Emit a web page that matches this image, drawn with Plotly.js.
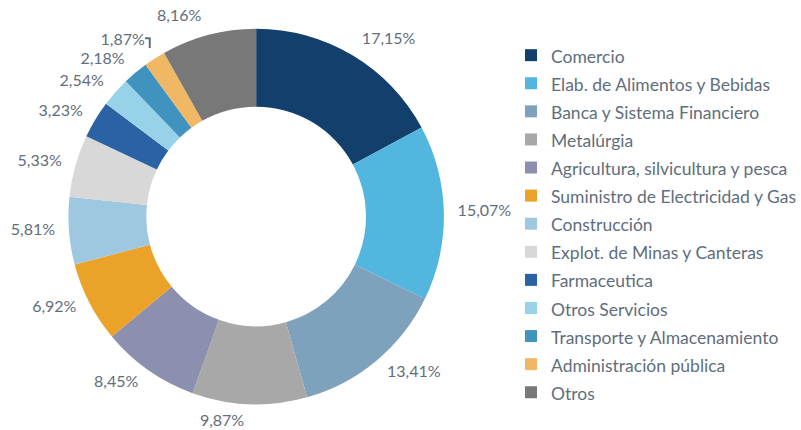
<!DOCTYPE html>
<html><head><meta charset="utf-8">
<script src="https://cdn.plot.ly/plotly-3.0.1.min.js"></script>
<style>html,body{margin:0;padding:0;background:#fff}#chart{width:801px;height:430px}</style>
</head><body><div id="chart"></div>
<script>
const categories = ["Comercio","Elab. de Alimentos y Bebidas","Banca y Sistema Financiero","Metalúrgia","Agricultura, silvicultura y pesca","Suministro de Electricidad y Gas","Construcción","Explot. de Minas y Canteras","Farmaceutica","Otros Servicios","Transporte y Almacenamiento","Administración pública","Otros"];
const values = [17.15,15.07,13.41,9.87,8.45,6.92,5.81,5.33,3.23,2.54,2.18,1.87,8.16];
const colors = ["#133F6C","#52B6DF","#7FA2BC","#A8A8A8","#8C8FAE","#EBA229","#9EC8DF","#D8D8D8","#2A62A3","#98D2E9","#4093BE","#F0B865","#787878"];

const legendLabels = categories.map(c => '<span style="font-size:17.5px">' + c + '</span>');

// visible donut (no text)
const donut = {
  type: "pie",
  labels: legendLabels,
  values: values,
  sort: false,
  direction: "clockwise",
  rotation: 0,
  hole: 0.585,
  marker: {colors: colors, line: {width: 0}},
  textinfo: "none",
  domain: {x: [0.0855, 0.5549], y: [0.0593, 0.9337]},
  automargin: false,
  hoverinfo: "label+value"
};
// transparent slightly larger ring carrying the outside percentage labels
const labelRing = {
  type: "pie",
  labels: legendLabels,
  values: values,
  sort: false,
  direction: "clockwise",
  rotation: 0,
  hole: 0.95,
  showlegend: false,
  marker: {colors: values.map(() => "rgba(0,0,0,0)"), line: {width: 0}},
  textposition: "outside",
  texttemplate: "%{value:.2f}%",
  textfont: {family: "Lato, sans-serif", size: 16, color: "#5F6E7C"},
  domain: {x: [0.0743, 0.5661], y: [0.0454, 0.9617]},
  automargin: false,
  hoverinfo: "skip"
};
const layout = {
  width: 801, height: 430,
  margin: {l: 0, r: 0, t: 0, b: 0},
  separators: ",.",
  paper_bgcolor: "#fff",
  showlegend: true,
  legend: {
    x: 0.639, xanchor: "left", y: 0.916, yanchor: "top",
    font: {family: "Lato, sans-serif", size: 19.3, color: "#5F6E7C"},
    itemwidth: 30
  }
};
Plotly.newPlot("chart", [donut, labelRing], layout, {displayModeBar: false, staticPlot: true});
</script></body></html>
